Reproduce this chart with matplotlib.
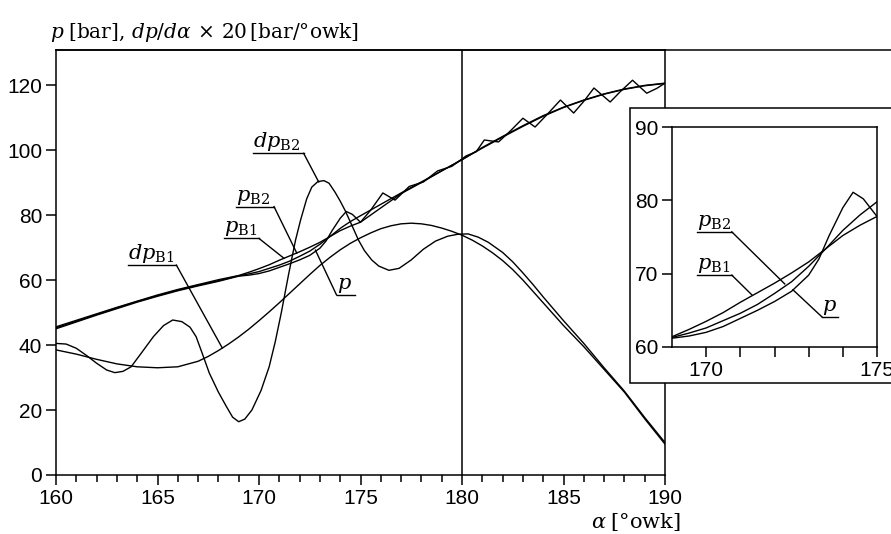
import numpy as np
import matplotlib
matplotlib.use('Agg')
import matplotlib.pyplot as plt
from matplotlib.lines import Line2D
from matplotlib.patches import Rectangle
from matplotlib.ticker import MultipleLocator, FixedLocator

plt.rcParams['font.family'] = 'Liberation Sans'
plt.rcParams['mathtext.fontset'] = 'dejavuserif'

# pressure, p and pB1 on the same crank-angle grid
alpha_p = [160, 161, 162, 163, 164, 165, 166, 167, 168, 169,
           169.5, 170, 170.5, 171, 171.5, 172, 172.5, 173, 173.5, 174, 174.5, 175,
           176, 177, 178, 179, 180, 181, 182, 183, 184, 185, 186, 187, 188, 189, 190]
p = [45.3, 47.3, 49.4, 51.4, 53.4, 55.2, 56.9, 58.4, 59.8, 61.3,
     61.9, 62.6, 63.6, 64.6, 65.8, 67.3, 68.9, 71.0, 73.4, 75.9, 78.0, 79.8,
     83.3, 86.8, 90.2, 93.6, 97.0, 100.8, 104.2, 107.5, 110.6, 113.2, 115.4, 117.3, 118.8, 119.9, 120.6]
p_b1 = [45.6, 47.6, 49.6, 51.6, 53.5, 55.4, 57.1, 58.6, 60.1, 61.4,
        62.4, 63.5, 64.7, 66.1, 67.4, 68.7, 70.1, 71.6, 73.4, 75.2, 76.6, 77.8,
        82.2, 86.6, 90.0, 93.6, 97.1, 100.6, 104.0, 107.3, 110.4, 113.1, 115.3, 117.2, 118.7, 119.8, 120.5]

# pB2 (oscillating)
alpha_b2 = [160, 161, 162, 163, 164, 165, 166, 167, 168, 169,
            169.5, 170, 170.5, 171, 171.5, 172, 172.5, 173,
            173.3, 173.6, 174, 174.3, 174.6, 175,
            175.5, 176.1, 176.7, 177.4, 178.1, 178.8, 179.5, 180.2, 180.7, 181.1,
            181.8, 182.4, 183.0, 183.6, 184.2, 184.85, 185.5, 186.0, 186.5, 187.3, 187.8, 188.4, 189.1, 189.6, 190]
p_b2 = [45.0, 47.1, 49.2, 51.2, 53.2, 55.0, 56.7, 58.2, 59.6, 61.2,
        61.5, 62.0, 62.8, 63.9, 65.0, 66.2, 67.6, 69.8,
        72.0, 75.2, 79.0, 81.1, 80.2, 77.8,
        81.5, 86.8, 84.6, 88.8, 90.2, 93.6, 95.0, 98.2, 99.5, 103.1,
        102.5, 106.0, 109.8, 107.1, 111.0, 115.4, 111.4, 115.0, 119.1, 114.8, 118.0, 121.5, 117.5, 119.0, 120.6]

# dp/dalpha x 20
alpha_d1 = [160, 161, 162, 163, 164, 165, 166, 167, 167.5, 168, 168.5, 169, 169.5, 170, 170.5,
            171, 171.5, 172, 172.5, 173, 173.5, 174, 174.5, 175, 175.5, 176, 176.5, 177, 177.5,
            178, 178.5, 179, 179.5, 180, 180.5, 181, 181.5, 182, 182.5, 183, 183.5, 184,
            185, 186, 187, 188, 189, 190]
dp_b1 = [38.5, 37.2, 35.6, 34.2, 33.3, 33.0, 33.3, 35.0, 36.5, 38.3, 40.3, 42.5, 44.9, 47.5, 50.2,
         53.0, 55.9, 58.8, 61.7, 64.5, 67.0, 69.3, 71.3, 73.0, 74.5, 75.8, 76.7, 77.3, 77.5,
         77.3, 76.8, 76.0, 75.0, 73.8, 72.3, 70.5, 68.4, 66.0, 63.2, 60.0, 56.5, 53.0,
         46.0, 39.5, 32.5, 25.5, 17.3, 9.5]
alpha_d2 = [160, 160.5, 161, 161.5, 162, 162.5, 162.9, 163.3, 163.7, 164.2, 164.8, 165.3, 165.75,
            166.2, 166.6, 166.9, 167.2, 167.55, 168, 168.4, 168.7, 169.0, 169.3, 169.65, 170.1,
            170.5, 170.8, 171.1, 171.45, 171.8, 172.05, 172.35, 172.6, 172.9, 173.2, 173.45,
            173.75, 174.0, 174.25, 174.6, 174.9, 175.2, 175.55, 175.9, 176.4, 176.9, 177.5,
            178.1, 178.7, 179.3, 179.8, 180.3, 180.8, 181.3, 182, 182.5, 183, 183.5, 184,
            185, 186, 187, 188, 189, 190]
dp_b2 = [40.5, 40.3, 39.0, 36.8, 34.4, 32.3, 31.5, 31.9, 33.3, 37.5, 42.6, 46.0, 47.7,
         47.2, 45.5, 42.6, 37.5, 31.4, 25.5, 21.0, 17.8, 16.4, 17.2, 20.0, 26.0,
         33.3, 41.0, 50.0, 61.5, 72.3, 78.5, 85.0, 88.6, 90.3, 90.6, 89.8,
         87.0, 84.3, 81.3, 76.5, 72.3, 69.0, 66.2, 64.3, 63.0, 63.6, 66.2,
         69.5, 72.0, 73.5, 74.1, 74.2, 73.2, 71.6, 68.5, 65.6, 62.2, 58.6, 54.8,
         47.5, 40.5, 33.0, 25.8, 17.7, 10.0]

# labels: text, underline x0, x1, y, leader target, leader from left end?
main_labels = [
    (r'$dp_{\mathrm{B2}}$', 169.71, 172.2, 99.0, (172.94, 90.2), False),
    (r'$p_{\mathrm{B2}}$', 168.86, 170.74, 82.6, (171.86, 68.3), False),
    (r'$p_{\mathrm{B1}}$', 168.28, 170.0, 72.8, (171.23, 66.7), False),
    (r'$p$', 173.82, 174.75, 55.4, (172.78, 69.2), True),
    (r'$dp_{\mathrm{B1}}$', 163.53, 165.93, 64.6, (168.19, 39.1), False),
]
inset_labels = [
    (r'$p_{\mathrm{B2}}$', 169.72, 170.75, 75.7, (172.30, 68.6), False),
    (r'$p_{\mathrm{B1}}$', 169.73, 170.75, 69.8, (171.34, 67.1), False),
    (r'$p$', 173.39, 173.87, 64.1, (172.54, 67.8), True),
]

lw = 1.0
fig = plt.figure(figsize=(8.91, 5.34), dpi=100)
ax = fig.add_axes([56/891, 1-475/534, (665-56)/891, (475-50)/534])


def draw_labels(a, labels, fs):
    for txt, x0, x1, y, tgt, left in labels:
        a.plot([x0, x1], [y, y], color='k', lw=lw)
        start = (x0, y) if left else (x1, y)
        a.plot([start[0], tgt[0]], [start[1], tgt[1]], color='k', lw=lw)
        a.text(x0, y, txt, fontsize=fs, ha='left', va='bottom')


ax.plot(alpha_p, p, color='k', lw=lw)
ax.plot(alpha_p, p_b1, color='k', lw=lw)
ax.plot(alpha_b2, p_b2, color='k', lw=lw)
ax.plot(alpha_d1, dp_b1, color='k', lw=lw)
ax.plot(alpha_d2, dp_b2, color='k', lw=lw)
ax.axvline(180, color='k', lw=1.1)
draw_labels(ax, main_labels, 15)

ax.set_xlim(160, 190)
ax.set_ylim(0, 130.8)
ax.xaxis.set_major_locator(MultipleLocator(5))
ax.xaxis.set_minor_locator(MultipleLocator(1))
ax.yaxis.set_major_locator(MultipleLocator(20))
ax.tick_params(which='major', direction='out', length=7, width=1.1, labelsize=15, pad=3)
ax.tick_params(which='minor', direction='out', length=5, width=1.1)
for s in ax.spines.values():
    s.set_linewidth(1.1)

ax.text(-0.01, 1.014, r'$p\;$[bar], $dp/d\alpha\,\times\,$20$\,$[bar/°owk]', transform=ax.transAxes,
        fontsize=14.5, family='DejaVu Serif', ha='left', va='bottom')
ax.text(1.025, -0.085, r'$\alpha\;$[°owk]', transform=ax.transAxes,
        fontsize=15, family='DejaVu Serif', ha='right', va='top')

# top frame line continues to the right edge
fig.add_artist(Line2D([56/891, 1.0], [1-50/534, 1-50/534], transform=fig.transFigure, color='k', lw=1.1))

# inset frame
fig.add_artist(Rectangle((630/891, 1-383/534), 0.4, (383-108)/534, transform=fig.transFigure,
                         facecolor='white', edgecolor='k', lw=1.1, zorder=2))

axi = fig.add_axes([672/891, 1-347/534, (877-672)/891, (347-127)/534], zorder=3)
axi.plot(alpha_p, p, color='k', lw=lw)
axi.plot(alpha_p, p_b1, color='k', lw=lw)
axi.plot(alpha_b2, p_b2, color='k', lw=lw)
draw_labels(axi, inset_labels, 15)
axi.set_xlim(169, 175)
axi.set_ylim(60, 90)
axi.xaxis.set_major_locator(FixedLocator([170, 171, 172, 173, 174, 175]))
axi.set_xticklabels(['170', '', '', '', '', '175'])
axi.yaxis.set_major_locator(MultipleLocator(10))
axi.tick_params(direction='out', length=7, width=1.1, labelsize=15, pad=3)
for s in axi.spines.values():
    s.set_linewidth(1.1)

fig.savefig('out.png', dpi=100)
